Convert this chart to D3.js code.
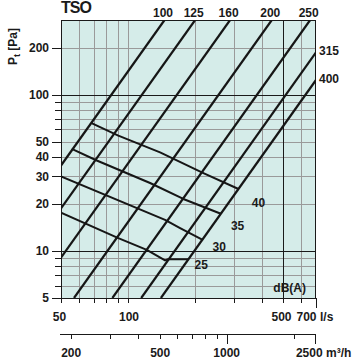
<!DOCTYPE html>
<html><head><meta charset="utf-8">
<script src="https://cdn.jsdelivr.net/npm/d3@7"></script>
<style>
body{margin:0;background:#fff}
text{font-family:"Liberation Sans",Arial,Helvetica,sans-serif;font-weight:bold;fill:#1a1a1a}
</style>
</head><body>
<svg id="c" width="363" height="359"></svg>
<script>
// ---- data ----
const ductSizes  = [100, 125, 160, 200, 250, 315, 400];
const ductStartQ = [50, 50, 50, 57.2, 85.1, 114.7, 140.6];
const ductStartP = [35.2, 18.7, 9.06, 5, 5, 5, 5];
const ductEndQ   = [146, 200.4, 287.7, 443, 659, 700, 700];
const ductEndP   = [300, 300, 300, 300, 300, 186, 124];

const dbLevels = [40, 35, 30, 25];
const db40Q = [68.2, 90.5, 139.4, 218.3, 313.8];
const db40P = [65.9, 54.6, 42.7, 31.5, 24.9];
const db35Q = [55.9, 72.4, 125.7, 177.4, 261.5];
const db35P = [44.9, 37.9, 27.2, 21.5, 17.3];
const db30Q = [50, 146.8, 171.5, 215.6];
const db30P = [30, 15.8, 14.0, 11.8];
const db25Q = [50, 90.5, 121.5, 146.8, 151.4, 187];
const db25P = [17.6, 12.07, 10.15, 8.70, 8.85, 8.85];

const yTickLabels = [5, 10, 20, 30, 40, 50, 100, 200];
const yGridLight  = [6, 7, 8, 9, 20, 30, 40, 50, 60, 70, 80, 90, 200];
const yGridDark   = [10, 100];
const xGridLight  = [60, 70, 80, 90, 100, 200, 300, 400, 600];
const xGridDark   = [500];
const xTickAll    = [50, 60, 70, 80, 90, 100, 200, 300, 400, 500, 600];
const xTickLabels = [50, 100, 500, 700];
const m3hTicks    = [200, 300, 400, 500, 600, 700, 800, 900, 1000, 2000, 2500];
const m3hMajor    = [1000, 2500];
const m3hLabels   = [200, 500, 1000, 2500];

// ---- layout ----
const L = 61, R = 316, T = 20, B = 298;
const x = d3.scaleLog().domain([50, 700]).range([L, R]);
const y = d3.scaleLog().domain([5, 300]).range([B, T]);
const xm = d3.scaleLog().domain([50 * 3.6, 700 * 3.6]).range([L, R]);
const px = v => Math.round(v) + 0.5;

const svg = d3.select("#c");
svg.append("rect").attr("x", L).attr("y", T).attr("width", R - L).attr("height", B - T).attr("fill", "#d5ece9");

svg.append("defs").append("clipPath").attr("id", "clip")
  .append("rect").attr("x", L).attr("y", T).attr("width", R - L).attr("height", B - T);

const grid = svg.append("g");
grid.selectAll(".hl").data(yGridLight).join("line")
  .attr("x1", L).attr("x2", R).attr("y1", d => px(y(d))).attr("y2", d => px(y(d)))
  .attr("stroke", "#9a9a9a").attr("stroke-width", 1);
grid.selectAll(".vl").data(xGridLight).join("line")
  .attr("y1", T).attr("y2", B).attr("x1", d => px(x(d))).attr("x2", d => px(x(d)))
  .attr("stroke", "#9a9a9a").attr("stroke-width", 1);
grid.selectAll(".hd").data(yGridDark).join("line")
  .attr("x1", L).attr("x2", R).attr("y1", d => px(y(d))).attr("y2", d => px(y(d)))
  .attr("stroke", "#1a1a1a").attr("stroke-width", 1);
grid.selectAll(".vd").data(xGridDark).join("line")
  .attr("y1", T).attr("y2", B).attr("x1", d => px(x(d))).attr("x2", d => px(x(d)))
  .attr("stroke", "#1a1a1a").attr("stroke-width", 1);

// border
svg.append("rect").attr("x", L + 0.5).attr("y", T + 0.5).attr("width", R - L - 1).attr("height", B - T)
  .attr("fill", "none").attr("stroke", "#1a1a1a").attr("stroke-width", 1);

// y ticks
const yTicksAll = yGridLight.concat(yGridDark, [5]);
svg.selectAll(".yt").data(yTicksAll).join("line")
  .attr("x1", d => yTickLabels.includes(d) ? 52 : 55).attr("x2", L)
  .attr("y1", d => px(y(d))).attr("y2", d => px(y(d)))
  .attr("stroke", "#1a1a1a");
svg.selectAll(".yl").data(yTickLabels).join("text")
  .attr("x", 49).attr("y", d => y(d) + 4.3).attr("text-anchor", "end")
  .attr("font-size", 12).text(d => d);

// x ticks (l/s)
svg.selectAll(".xt").data(xTickAll.concat([700])).join("line")
  .attr("x1", d => px(x(d))).attr("x2", d => px(x(d)))
  .attr("y1", B).attr("y2", d => d === 700 ? B + 10 : B + 5)
  .attr("stroke", "#1a1a1a");
const xLabelShift = {50: -1.5, 100: 1, 500: -2, 700: -9.5};
svg.selectAll(".xl").data(xTickLabels).join("text")
  .attr("x", d => x(d) + xLabelShift[d]).attr("y", 320.5).attr("text-anchor", "middle")
  .attr("font-size", 12).text(d => d);
svg.append("text").attr("x", 320).attr("y", 320.5).attr("font-size", 12).text("l/s");

// m3/h axis
const ym = 334;
svg.append("line").attr("x1", 60).attr("x2", R).attr("y1", ym + 0.5).attr("y2", ym + 0.5).attr("stroke", "#1a1a1a");
svg.selectAll(".mt").data(m3hTicks).join("line")
  .attr("x1", d => px(xm(d))).attr("x2", d => px(xm(d)))
  .attr("y1", ym).attr("y2", d => m3hMajor.includes(d) ? ym + 10 : ym + 5)
  .attr("stroke", "#1a1a1a");
const mLabelShift = {200: 0, 500: 0.5, 1000: 0, 2500: -6};
svg.selectAll(".ml").data(m3hLabels).join("text")
  .attr("x", d => xm(d) + mLabelShift[d]).attr("y", 357).attr("text-anchor", "middle")
  .attr("font-size", 12).text(d => d);
svg.append("text").attr("x", 326).attr("y", 357).attr("font-size", 12).text("m³/h");

// duct lines
const lineGen = d3.line().x(d => x(d[0])).y(d => y(d[1]));
const ducts = ductSizes.map((s, i) => ({size: s, pts: [[ductStartQ[i], ductStartP[i]], [ductEndQ[i], ductEndP[i]]]}));
svg.append("g").attr("clip-path", "url(#clip)").selectAll("path").data(ducts).join("path")
  .attr("d", d => lineGen(d.pts)).attr("fill", "none").attr("stroke", "#161616").attr("stroke-width", 2.2);

// duct labels
svg.selectAll(".dl").data(ducts).join("text")
  .attr("font-size", 12)
  .attr("text-anchor", d => d.pts[1][1] >= 300 ? "middle" : "start")
  .attr("x", d => d.pts[1][1] >= 300 ? x(d.pts[1][0]) - 1.5 : 319)
  .attr("y", d => d.pts[1][1] >= 300 ? 16.5 : y(d.pts[1][1]) + 3)
  .text(d => d.size);

// dB lines
const dbQ = [db40Q, db35Q, db30Q, db25Q];
const dbP = [db40P, db35P, db30P, db25P];
const dbs = dbLevels.map((lv, i) => ({lv, pts: dbQ[i].map((q, j) => [q, dbP[i][j]])}));
svg.append("g").attr("clip-path", "url(#clip)").selectAll("path").data(dbs).join("path")
  .attr("d", d => lineGen(d.pts)).attr("fill", "none").attr("stroke", "#161616")
  .attr("stroke-width", 2).attr("stroke-linejoin", "round");

const dbLabelOff = {40: [20, 18], 35: [16.7, 15.8], 30: [17, 11], 25: [12.7, 10.2]};
svg.selectAll(".dbl").data(dbs).join("text")
  .attr("font-size", 12).attr("text-anchor", "middle")
  .attr("x", d => { const e = d.pts[d.pts.length - 1]; return x(e[0]) + dbLabelOff[d.lv][0]; })
  .attr("y", d => { const e = d.pts[d.pts.length - 1]; return y(e[1]) + dbLabelOff[d.lv][1]; })
  .text(d => d.lv);
svg.append("text").attr("x", 289.7).attr("y", 291.5).attr("text-anchor", "middle").attr("font-size", 12).text("dB(A)");

// title and y label
svg.append("text").attr("x", 61).attr("y", 13.3).attr("font-size", 16).attr("letter-spacing", -1).text("TSO");
const yl = svg.append("text").attr("transform", "translate(16.5,65) rotate(-90)").attr("font-size", 12);
yl.append("tspan").text("P");
yl.append("tspan").attr("font-size", 9).attr("dy", 3).text("t");
yl.append("tspan").attr("dy", -3).text(" [Pa]");
</script>
</body></html>
